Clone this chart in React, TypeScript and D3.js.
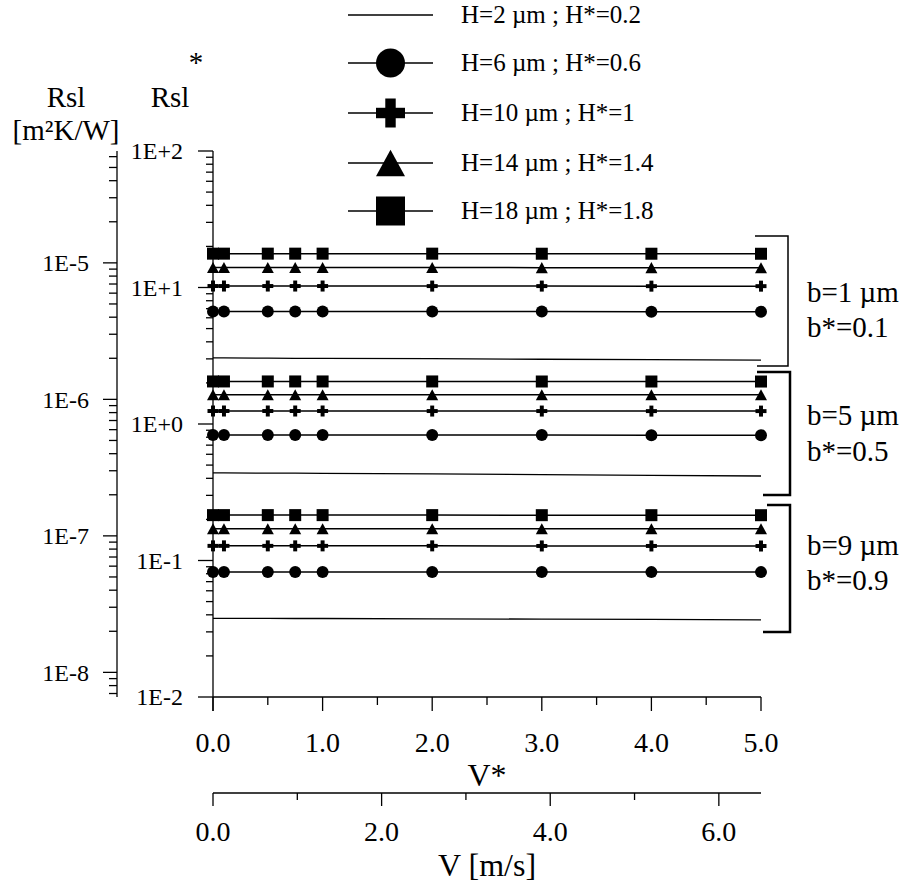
import React from "react";
import * as d3 from "d3";

// ---------- data ----------
const V_STAR = [0, 0.1, 0.5, 0.75, 1, 2, 3, 4, 5];

// b = 1 µm
const H2_B1 = [3.05, 3.05, 3.04, 3.03, 3.03, 3.01, 2.98, 2.96, 2.94];
const H6_B1 = [6.67, 6.67, 6.67, 6.67, 6.67, 6.66, 6.66, 6.65, 6.65];
const H10_B1 = [10.25, 10.25, 10.25, 10.25, 10.25, 10.24, 10.24, 10.23, 10.23];
const H14_B1 = [14.0, 14.0, 14.0, 14.0, 14.0, 14.0, 13.98, 13.98, 13.97];
const H18_B1 = [17.7, 17.7, 17.7, 17.7, 17.7, 17.7, 17.68, 17.68, 17.67];
// b = 5 µm
const H2_B5 = [0.438, 0.438, 0.437, 0.436, 0.435, 0.431, 0.426, 0.421, 0.416];
const H6_B5 = [0.83, 0.83, 0.83, 0.83, 0.83, 0.829, 0.829, 0.828, 0.828];
const H10_B5 = [1.245, 1.245, 1.245, 1.245, 1.245, 1.244, 1.244, 1.243, 1.243];
const H14_B5 = [1.64, 1.64, 1.64, 1.64, 1.64, 1.64, 1.638, 1.638, 1.637];
const H18_B5 = [2.05, 2.05, 2.05, 2.05, 2.05, 2.05, 2.048, 2.048, 2.047];
// b = 9 µm
const H2_B9 = [0.0377, 0.0377, 0.0377, 0.0376, 0.0376, 0.0374, 0.0372, 0.037, 0.0367];
const H6_B9 = [0.0824, 0.0824, 0.0824, 0.0824, 0.0824, 0.0823, 0.0823, 0.0822, 0.0822];
const H10_B9 = [0.128, 0.128, 0.128, 0.128, 0.128, 0.128, 0.1278, 0.1278, 0.1277];
const H14_B9 = [0.171, 0.171, 0.171, 0.171, 0.171, 0.171, 0.1708, 0.1708, 0.1707];
const H18_B9 = [0.215, 0.215, 0.215, 0.215, 0.215, 0.215, 0.2148, 0.2148, 0.2147];

const LEGEND_LABELS = [
  "H=2 µm ; H*=0.2",
  "H=6 µm ; H*=0.6",
  "H=10 µm ; H*=1",
  "H=14 µm ; H*=1.4",
  "H=18 µm ; H*=1.8",
];
const MARKERS = ["none", "circle", "plus", "triangle", "square"];

const B_LABELS = ["b=1 µm", "b=5 µm", "b=9 µm"];
const B_STAR_LABELS = ["b*=0.1", "b*=0.5", "b*=0.9"];

const INNER_TICKS = [100, 10, 1, 0.1, 0.01];
const INNER_TICK_LABELS = ["1E+2", "1E+1", "1E+0", "1E-1", "1E-2"];
const OUTER_TICKS = [1e-5, 1e-6, 1e-7, 1e-8];
const OUTER_TICK_LABELS = ["1E-5", "1E-6", "1E-7", "1E-8"];
const RSL_FACTOR = 6.6e-7; // Rsl = Rsl* x factor

const VSTAR_TICKS = [0, 1, 2, 3, 4, 5];
const VSTAR_MINOR = [0.5, 1.5, 2.5, 3.5, 4.5];
const VSTAR_TICK_LABELS = ["0.0", "1.0", "2.0", "3.0", "4.0", "5.0"];
const V_TICKS = [0, 2, 4, 6];
const V_MINOR = [1, 3, 5];
const V_TICK_LABELS = ["0.0", "2.0", "4.0", "6.0"];
const V_MAX = 6.5;

const GROUPS = [
  [H2_B1, H6_B1, H10_B1, H14_B1, H18_B1],
  [H2_B5, H6_B5, H10_B5, H14_B5, H18_B5],
  [H2_B9, H6_B9, H10_B9, H14_B9, H18_B9],
];

// ---------- layout ----------
const W = 921;
const H = 885;
const X0 = 213;
const X1 = 761;
const Y_TOP = 151;
const Y_BOT = 697;
const OUTER_X = 117;
const V_AXIS_Y = 793;
const FONT = "'Liberation Serif', 'Times New Roman', serif";

function Marker({ type, x, y, s }: { type: string; x: number; y: number; s: number }) {
  if (type === "circle") return <circle cx={x} cy={y} r={s / 2} fill="#000" />;
  if (type === "square")
    return <rect x={x - s / 2} y={y - s / 2} width={s} height={s} fill="#000" />;
  if (type === "triangle") {
    const h = s * 0.92;
    return (
      <path
        d={`M${x},${y - h / 2}L${x + s / 2},${y + h / 2}L${x - s / 2},${y + h / 2}Z`}
        fill="#000"
      />
    );
  }
  if (type === "plus") {
    const t = s * 0.36;
    return (
      <g fill="#000">
        <rect x={x - s / 2} y={y - t / 2} width={s} height={t} />
        <rect x={x - t / 2} y={y - s / 2} width={t} height={s} />
      </g>
    );
  }
  return null;
}

export default function App() {
  const x = d3.scaleLinear().domain([0, 5]).range([X0, X1]);
  const xv = d3.scaleLinear().domain([0, V_MAX]).range([X0, X1]);
  const y = d3.scaleLog().domain([0.01, 100]).range([Y_BOT, Y_TOP]);
  const yo = d3
    .scaleLog()
    .domain([0.01 * RSL_FACTOR, 100 * RSL_FACTOR])
    .range([Y_BOT, Y_TOP]);

  const innerMinor = y.ticks().filter((t) => !INNER_TICKS.some((m) => Math.abs(m - t) / m < 1e-6));
  const outerAll = yo.ticks();
  const outerMinor = outerAll.filter(
    (t) => !OUTER_TICKS.some((m) => Math.abs(m - t) / m < 1e-6)
  );

  const line = d3
    .line<number>()
    .x((_, i) => x(V_STAR[i]))
    .y((d) => y(d));

  const markerSize: Record<string, number> = { circle: 12, plus: 11, triangle: 12, square: 12 };
  const legendSize: Record<string, number> = { circle: 29, plus: 29, triangle: 29, square: 29 };

  const legendRows = [15, 63, 113, 163, 211];
  const brackets = [
    { d: "M755,236H788V366H757", w: 1.5, ty: [302, 337] },
    { d: "M757,372H790V495H763", w: 2.5, ty: [425, 461] },
    { d: "M767,505H790V632H763", w: 2.5, ty: [555, 590] },
  ];

  return (
    <svg
      width={W}
      height={H}
      style={{ position: "absolute", left: 0, top: 0, background: "#fff" }}
      fontFamily={FONT}
    >
      <rect width={W} height={H} fill="#fff" />

      {/* Axis titles */}
      <text x={66} y={107} fontSize={29} textAnchor="middle">Rsl</text>
      <text x={66} y={140} fontSize={29} textAnchor="middle">[m²K/W]</text>
      <text x={170} y={107} fontSize={29} textAnchor="middle">Rsl</text>
      <text x={196} y={72} fontSize={29} textAnchor="middle">*</text>

      {/* Outer Rsl axis */}
      <g stroke="#000" strokeWidth={1.3}>
        <line x1={OUTER_X} x2={OUTER_X} y1={Y_TOP} y2={Y_BOT} />
        {OUTER_TICKS.map((t) => (
          <line key={"om" + t} x1={OUTER_X - 14} x2={OUTER_X} y1={yo(t)} y2={yo(t)} />
        ))}
        {outerMinor.map((t, i) => (
          <line key={"on" + i} x1={OUTER_X - 8} x2={OUTER_X} y1={yo(t)} y2={yo(t)} />
        ))}
      </g>
      {OUTER_TICKS.map((t, i) => (
        <text key={"ol" + t} x={89} y={yo(t)} dy="0.35em" fontSize={24} textAnchor="end">
          {OUTER_TICK_LABELS[i]}
        </text>
      ))}

      {/* Inner Rsl* axis */}
      <g stroke="#000" strokeWidth={1.3}>
        <line x1={X0} x2={X0} y1={Y_TOP} y2={Y_BOT + 14} />
        {INNER_TICKS.map((t) => (
          <line key={"im" + t} x1={X0 - 15} x2={X0} y1={y(t)} y2={y(t)} />
        ))}
        {innerMinor.map((t, i) => (
          <line key={"in" + i} x1={X0 - 7} x2={X0} y1={y(t)} y2={y(t)} />
        ))}
      </g>
      {INNER_TICKS.map((t, i) => (
        <text key={"il" + t} x={183} y={y(t)} dy="0.35em" fontSize={24} textAnchor="end">
          {INNER_TICK_LABELS[i]}
        </text>
      ))}

      {/* V* axis */}
      <g stroke="#000" strokeWidth={1.3}>
        <line x1={X0} x2={X1} y1={Y_BOT} y2={Y_BOT} />
        {VSTAR_TICKS.map((t) => (
          <line key={"xm" + t} x1={x(t)} x2={x(t)} y1={Y_BOT} y2={Y_BOT + 14} />
        ))}
        {VSTAR_MINOR.map((t) => (
          <line key={"xn" + t} x1={x(t)} x2={x(t)} y1={Y_BOT} y2={Y_BOT + 8} />
        ))}
      </g>
      {VSTAR_TICKS.map((t, i) => (
        <text key={"xl" + t} x={x(t)} y={752} fontSize={28} textAnchor="middle">
          {VSTAR_TICK_LABELS[i]}
        </text>
      ))}
      <text x={(X0 + X1) / 2} y={786} fontSize={32} textAnchor="middle">V*</text>

      {/* V axis */}
      <g stroke="#000" strokeWidth={1.3}>
        <line x1={X0} x2={X1} y1={V_AXIS_Y} y2={V_AXIS_Y} />
        {V_TICKS.map((t) => (
          <line key={"vm" + t} x1={xv(t)} x2={xv(t)} y1={V_AXIS_Y} y2={V_AXIS_Y + 13} />
        ))}
        {V_MINOR.map((t) => (
          <line key={"vn" + t} x1={xv(t)} x2={xv(t)} y1={V_AXIS_Y} y2={V_AXIS_Y + 7} />
        ))}
      </g>
      {V_TICKS.map((t, i) => (
        <text key={"vl" + t} x={xv(t)} y={841} fontSize={28} textAnchor="middle">
          {V_TICK_LABELS[i]}
        </text>
      ))}
      <text x={(X0 + X1) / 2} y={876} fontSize={32} textAnchor="middle">V [m/s]</text>

      {/* Series */}
      {GROUPS.map((grp, gi) => (
        <g key={"g" + gi}>
          {grp.map((vals, si) => (
            <g key={"s" + si}>
              <path
                d={line(vals) || ""}
                fill="none"
                stroke="#000"
                strokeWidth={si === 0 ? 1.3 : 1.5}
              />
              {MARKERS[si] !== "none" &&
                vals.map((v, i) => (
                  <Marker
                    key={i}
                    type={MARKERS[si]}
                    x={x(V_STAR[i])}
                    y={y(v)}
                    s={markerSize[MARKERS[si]]}
                  />
                ))}
            </g>
          ))}
        </g>
      ))}

      {/* Brackets */}
      {brackets.map((b, i) => (
        <g key={"b" + i}>
          <path d={b.d} fill="none" stroke="#000" strokeWidth={b.w} />
          <text x={807} y={b.ty[0]} fontSize={29}>{B_LABELS[i]}</text>
          <text x={807} y={b.ty[1]} fontSize={29}>{B_STAR_LABELS[i]}</text>
        </g>
      ))}

      {/* Legend */}
      {LEGEND_LABELS.map((lab, i) => (
        <g key={"l" + i}>
          <line x1={348} x2={433} y1={legendRows[i]} y2={legendRows[i]} stroke="#000" strokeWidth={1.3} />
          {MARKERS[i] !== "none" && (
            <Marker type={MARKERS[i]} x={390.5} y={legendRows[i]} s={legendSize[MARKERS[i]]} />
          )}
          <text x={461} y={legendRows[i] + 8} fontSize={25}>{lab}</text>
        </g>
      ))}
    </svg>
  );
}
